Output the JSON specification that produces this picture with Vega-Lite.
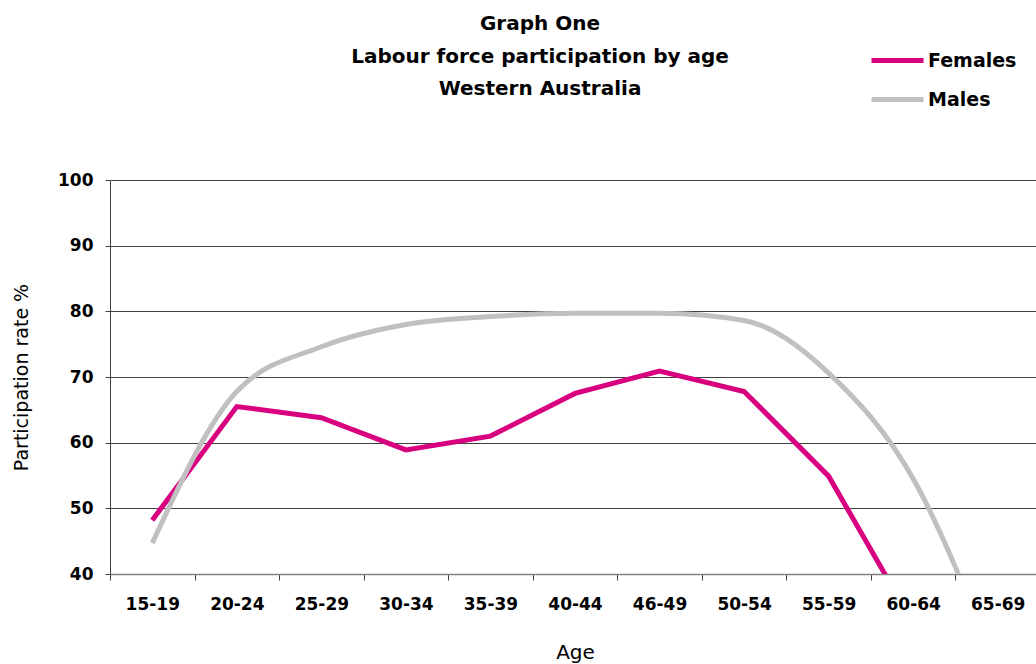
{
  "$schema": "https://vega.github.io/schema/vega-lite/v6.json",
  "autosize": "none",
  "width": 930,
  "height": 394,
  "padding": {"left": 110, "top": 180, "right": 0, "bottom": 90},
  "background": "white",
  "title": {
    "text": ["Graph One", "Labour force participation by age", "Western Australia"],
    "font": "DejaVu Sans",
    "fontSize": 20,
    "fontWeight": "bold",
    "color": "black",
    "lineHeight": 32.5,
    "anchor": "middle",
    "frame": "group",
    "dx": -35,
    "offset": -67
  },
  "data": {
    "values": [
      {"age": "15-19", "sex": "Females", "rate": 48.2},
      {"age": "20-24", "sex": "Females", "rate": 65.5},
      {"age": "25-29", "sex": "Females", "rate": 63.8},
      {"age": "30-34", "sex": "Females", "rate": 58.9},
      {"age": "35-39", "sex": "Females", "rate": 61.0},
      {"age": "40-44", "sex": "Females", "rate": 67.5},
      {"age": "46-49", "sex": "Females", "rate": 70.9},
      {"age": "50-54", "sex": "Females", "rate": 67.8},
      {"age": "55-59", "sex": "Females", "rate": 54.9},
      {"age": "60-64", "sex": "Females", "rate": 32.5},
      {"age": "65-69", "sex": "Females", "rate": 13.0},
      {"age": "15-19", "sex": "Males", "rate": 44.7},
      {"age": "20-24", "sex": "Males", "rate": 67.8},
      {"age": "25-29", "sex": "Males", "rate": 74.6},
      {"age": "30-34", "sex": "Males", "rate": 78.0},
      {"age": "35-39", "sex": "Males", "rate": 79.2},
      {"age": "40-44", "sex": "Males", "rate": 79.7},
      {"age": "46-49", "sex": "Males", "rate": 79.7},
      {"age": "50-54", "sex": "Males", "rate": 78.6},
      {"age": "55-59", "sex": "Males", "rate": 70.6},
      {"age": "60-64", "sex": "Males", "rate": 54.5},
      {"age": "65-69", "sex": "Males", "rate": 25.0}
    ]
  },
  "encoding": {
    "x": {
      "field": "age", "type": "nominal", "sort": null,
      "title": "Age",
      "axis": {
        "labelAngle": 0,
        "labelFont": "DejaVu Sans",
        "labelFontSize": 17,
        "labelFontWeight": "bold",
        "labelColor": "black",
        "labelPadding": 16,
        "tickBand": "extent",
        "tickSize": 6,
        "tickColor": "#404040",
        "domainColor": "#808080",
        "domainWidth": 1.5,
        "grid": false,
        "titleFont": "DejaVu Sans",
        "titleFontSize": 20,
        "titleFontWeight": "normal",
        "titleColor": "black",
        "titlePadding": 30
      }
    },
    "y": {
      "field": "rate", "type": "quantitative",
      "title": "Participation rate %",
      "scale": {"domain": [40, 100], "nice": false, "zero": false},
      "axis": {
        "values": [40, 50, 60, 70, 80, 90, 100],
        "labelFont": "DejaVu Sans",
        "labelFontSize": 17,
        "labelFontWeight": "bold",
        "labelColor": "black",
        "labelPadding": 12,
        "tickSize": 5,
        "tickColor": "#404040",
        "domainColor": "#404040",
        "grid": true,
        "gridColor": "#404040",
        "gridWidth": 1,
        "gridOpacity": 1,
        "titleFont": "DejaVu Sans",
        "titleFontSize": 19,
        "titleFontWeight": "normal",
        "titleColor": "black",
        "titlePadding": 26
      }
    },
    "color": {
      "field": "sex", "type": "nominal",
      "scale": {"domain": ["Females", "Males"], "range": ["#D8007F", "#C0C0C0"]},
      "legend": {
        "title": null,
        "orient": "none",
        "legendX": 759,
        "legendY": -148,
        "symbolType": "stroke",
        "symbolSize": 2704,
        "symbolStrokeWidth": 5,
        "labelFont": "DejaVu Sans",
        "labelFontSize": 19,
        "labelFontWeight": "bold",
        "labelColor": "black",
        "labelOffset": 2,
        "rowPadding": 0
      }
    }
  },
  "layer": [
    {
      "transform": [{"filter": "datum.sex === 'Females'"}],
      "mark": {"type": "line", "strokeWidth": 5, "clip": true, "strokeJoin": "miter"}
    },
    {
      "transform": [{"filter": "datum.sex === 'Males'"}],
      "mark": {"type": "line", "strokeWidth": 5, "clip": true, "interpolate": "monotone"}
    }
  ],
  "config": {
    "view": {"stroke": null},
    "scale": {"bandPaddingInner": 0, "bandPaddingOuter": 0}
  }
}
